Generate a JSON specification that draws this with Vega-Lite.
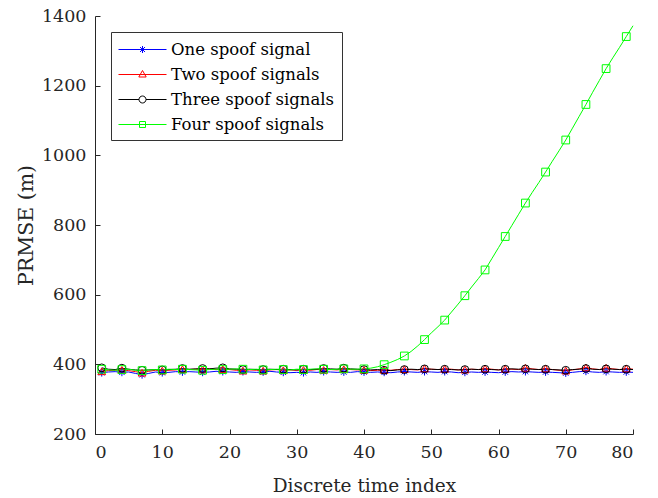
{
  "$schema": "https://vega.github.io/schema/vega-lite/v6.json",
  "autosize": "none",
  "width": 538,
  "height": 418,
  "padding": {"left": 95, "top": 16, "right": 25, "bottom": 64},
  "background": "white",
  "config": {
    "font": "DejaVu Serif",
    "view": {"stroke": null},
    "legend": {"labelFont": "DejaVu Serif", "labelLimit": 0},
    "axis": {
      "grid": false,
      "domainColor": "#262626",
      "tickColor": "#262626",
      "labelColor": "#262626",
      "titleColor": "#262626",
      "labelFont": "DejaVu Serif",
      "titleFont": "DejaVu Serif",
      "labelFontSize": 17.5,
      "titleFontSize": 18.5,
      "titleFontWeight": "normal",
      "tickSize": -5,
      "labelPadding": 14,
      "domainWidth": 1,
      "tickWidth": 1,
      "format": "d"
    }
  },
  "data": {
    "values": [
      {"t":1,"a":376,"b":380,"c":390,"d":386},
      {"t":2,"a":378,"b":382,"c":386,"d":384},
      {"t":3,"a":379,"b":383,"c":385,"d":383},
      {"t":4,"a":377,"b":384,"c":389,"d":385},
      {"t":5,"a":378,"b":382,"c":386,"d":386},
      {"t":6,"a":374,"b":379,"c":384,"d":383},
      {"t":7,"a":370,"b":376,"c":383,"d":382},
      {"t":8,"a":374,"b":380,"c":384,"d":384},
      {"t":9,"a":378,"b":383,"c":385,"d":385},
      {"t":10,"a":376,"b":382,"c":384,"d":384},
      {"t":11,"a":377,"b":383,"c":385,"d":386},
      {"t":12,"a":379,"b":384,"c":386,"d":385},
      {"t":13,"a":378,"b":386,"c":388,"d":386},
      {"t":14,"a":379,"b":385,"c":386,"d":385},
      {"t":15,"a":378,"b":386,"c":387,"d":384},
      {"t":16,"a":377,"b":385,"c":388,"d":383},
      {"t":17,"a":378,"b":387,"c":387,"d":385},
      {"t":18,"a":380,"b":385,"c":389,"d":386},
      {"t":19,"a":379,"b":386,"c":390,"d":385},
      {"t":20,"a":378,"b":385,"c":387,"d":386},
      {"t":21,"a":377,"b":383,"c":386,"d":387},
      {"t":22,"a":379,"b":382,"c":385,"d":386},
      {"t":23,"a":378,"b":384,"c":386,"d":385},
      {"t":24,"a":377,"b":383,"c":385,"d":386},
      {"t":25,"a":378,"b":382,"c":385,"d":384},
      {"t":26,"a":380,"b":384,"c":386,"d":385},
      {"t":27,"a":378,"b":385,"c":385,"d":386},
      {"t":28,"a":377,"b":383,"c":386,"d":385},
      {"t":29,"a":376,"b":384,"c":385,"d":384},
      {"t":30,"a":377,"b":383,"c":384,"d":386},
      {"t":31,"a":376,"b":384,"c":386,"d":385},
      {"t":32,"a":378,"b":383,"c":385,"d":386},
      {"t":33,"a":377,"b":385,"c":386,"d":387},
      {"t":34,"a":379,"b":384,"c":388,"d":386},
      {"t":35,"a":378,"b":385,"c":387,"d":385},
      {"t":36,"a":377,"b":384,"c":386,"d":386},
      {"t":37,"a":378,"b":386,"c":389,"d":387},
      {"t":38,"a":377,"b":385,"c":387,"d":386},
      {"t":39,"a":379,"b":384,"c":386,"d":386},
      {"t":40,"a":378,"b":384,"c":385,"d":387},
      {"t":41,"a":377,"b":382,"c":384,"d":389},
      {"t":42,"a":378,"b":383,"c":385,"d":393},
      {"t":43,"a":377,"b":384,"c":383,"d":399},
      {"t":44,"a":376,"b":383,"c":382,"d":406},
      {"t":45,"a":378,"b":385,"c":384,"d":414},
      {"t":46,"a":379,"b":386,"c":385,"d":424},
      {"t":47,"a":378,"b":385,"c":386,"d":437},
      {"t":48,"a":377,"b":384,"c":385,"d":453},
      {"t":49,"a":379,"b":388,"c":387,"d":471},
      {"t":50,"a":378,"b":386,"c":386,"d":490},
      {"t":51,"a":377,"b":385,"c":385,"d":508},
      {"t":52,"a":379,"b":387,"c":386,"d":527},
      {"t":53,"a":378,"b":386,"c":385,"d":550},
      {"t":54,"a":376,"b":384,"c":384,"d":573},
      {"t":55,"a":377,"b":385,"c":385,"d":597},
      {"t":56,"a":378,"b":386,"c":386,"d":622},
      {"t":57,"a":377,"b":385,"c":385,"d":646},
      {"t":58,"a":378,"b":388,"c":386,"d":671},
      {"t":59,"a":377,"b":386,"c":385,"d":703},
      {"t":60,"a":376,"b":384,"c":384,"d":735},
      {"t":61,"a":378,"b":387,"c":386,"d":767},
      {"t":62,"a":379,"b":386,"c":387,"d":799},
      {"t":63,"a":378,"b":385,"c":386,"d":831},
      {"t":64,"a":379,"b":390,"c":387,"d":863},
      {"t":65,"a":378,"b":387,"c":386,"d":893},
      {"t":66,"a":377,"b":385,"c":385,"d":922},
      {"t":67,"a":378,"b":388,"c":386,"d":952},
      {"t":68,"a":377,"b":385,"c":385,"d":983},
      {"t":69,"a":376,"b":383,"c":384,"d":1013},
      {"t":70,"a":375,"b":382,"c":383,"d":1044},
      {"t":71,"a":377,"b":384,"c":385,"d":1078},
      {"t":72,"a":379,"b":387,"c":386,"d":1112},
      {"t":73,"a":380,"b":391,"c":388,"d":1146},
      {"t":74,"a":378,"b":387,"c":386,"d":1181},
      {"t":75,"a":377,"b":385,"c":385,"d":1215},
      {"t":76,"a":379,"b":390,"c":387,"d":1249},
      {"t":77,"a":378,"b":387,"c":386,"d":1280},
      {"t":78,"a":377,"b":385,"c":385,"d":1310},
      {"t":79,"a":378,"b":388,"c":386,"d":1341},
      {"t":80,"a":377,"b":386,"c":385,"d":1372}
    ]
  },
  "transform": [
    {"fold": ["a", "b", "c", "d"], "as": ["k", "v"]},
    {"lookup": "k", "from": {"data": {"values": [
      {"k": "a", "s": "One spoof signal"},
      {"k": "b", "s": "Two spoof signals"},
      {"k": "c", "s": "Three spoof signals"},
      {"k": "d", "s": "Four spoof signals"}
    ]}, "key": "k", "fields": ["s"]}}
  ],
  "encoding": {
    "x": {"field": "t", "type": "quantitative", "title": "Discrete time index",
      "scale": {"domain": [0, 80], "nice": false},
      "axis": {"values": [0,10,20,30,40,50,60,70,80], "titlePadding": 16}},
    "y": {"field": "v", "type": "quantitative", "title": "PRMSE (m)",
      "scale": {"domain": [200, 1400], "nice": false, "zero": false},
      "axis": {"values": [200,400,600,800,1000,1200,1400], "titlePadding": 5, "titleFontSize": 20.5}}
  },
  "layer": [
    {
      "mark": {"type": "line", "strokeWidth": 1, "interpolate": "linear"},
      "encoding": {
        "color": {"field": "s", "type": "nominal",
          "scale": {"domain": ["One spoof signal", "Two spoof signals", "Three spoof signals", "Four spoof signals"],
                    "range": ["#0000ff", "#ff0000", "#000000", "#00ff00"]},
          "legend": {
            "title": null,
            "orient": "none",
            "legendX": 16,
            "legendY": 16,
            "direction": "vertical",
            "labelFontSize": 16.5,
            "labelColor": "#000000",
            "symbolSize": 400,
            "symbolType": "M-1,0H3.8",
            "symbolStrokeWidth": 1,
            "labelOffset": 32,
            "rowPadding": 6,
            "padding": 7,
            "strokeColor": "#333333",
            "fillColor": "white",
            "encode": {
              "symbols": {"update": {
                "shape": {"signal": "datum.value === 'One spoof signal' ? 'M-1,0H3.8M1.4,-0.35V0.35M1.05,0H1.75M1.15,-0.25L1.65,0.25M1.15,0.25L1.65,-0.25' : datum.value === 'Two spoof signals' ? 'M-1,0H3.8M1.4,-0.4L1.77,0.25L1.03,0.25Z' : datum.value === 'Three spoof signals' ? 'M-1,0H1.05M1.75,0H3.8M1.75,0A0.35,0.35 0 1,1 1.05,0A0.35,0.35 0 1,1 1.75,0' : 'M-1,0H3.8M1.1,-0.3H1.7V0.3H1.1Z'"},
                "fill": {"value": "transparent"},
                "strokeWidth": {"value": 1}
              }}
            }
          }}
      }
    },
    {
      "transform": [{"filter": "(datum.t - 1) % 3 == 0"}],
      "mark": {"type": "point", "filled": false, "strokeWidth": 1, "size": 60, "opacity": 1},
      "encoding": {
        "shape": {"field": "k", "type": "nominal", "legend": null,
          "scale": {"domain": ["a", "b", "c", "d"],
            "range": ["M0,-1V1M-1,0H1M-0.7,-0.7L0.7,0.7M-0.7,0.7L0.7,-0.7", "triangle-up", "circle", "square"]}},
        "color": {"field": "s", "type": "nominal", "legend": null}
      }
    }
  ]
}
